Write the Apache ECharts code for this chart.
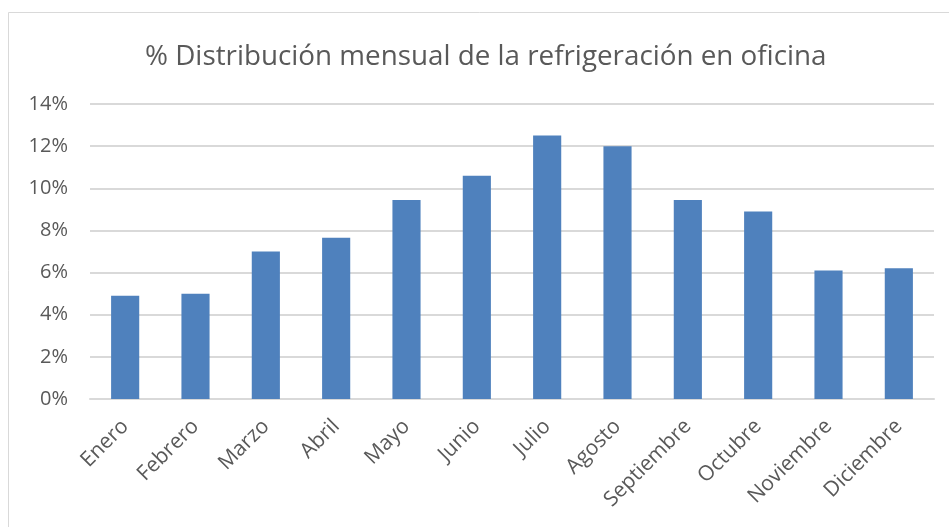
<!DOCTYPE html>
<html>
<head>
<meta charset="utf-8">
<script src="https://cdn.jsdelivr.net/npm/echarts@6/dist/echarts.min.js"></script>
<style>
  html, body { margin: 0; padding: 0; background: #fff; }
  #chart { width: 949px; height: 527px; }
</style>
</head>
<body>
<div id="chart"></div>
<script>
// meses y porcentaje mensual
var meses = ['Enero', 'Febrero', 'Marzo', 'Abril', 'Mayo', 'Junio', 'Julio',
             'Agosto', 'Septiembre', 'Octubre', 'Noviembre', 'Diciembre'];
var porcentaje = [4.9, 5.0, 7.0, 7.65, 9.45, 10.6, 12.5, 12.0, 9.45, 8.9, 6.1, 6.2];
var titulo = '% Distribución mensual de la refrigeración en oficina';

var fuente = '"Open Sans", "Noto Sans", sans-serif';
var chart = echarts.init(document.getElementById('chart'), null, { renderer: 'canvas' });

var option = {
    animation: false,
    backgroundColor: '#fff',
    title: {
        text: titulo,
        left: 140,
        top: 38,
        textStyle: { fontFamily: fuente, fontSize: 27.8, fontWeight: 'normal', color: '#595959' }
    },
    // marco del area del grafico
    graphic: [{
        type: 'rect',
        shape: { x: 8.5, y: 12.5, width: 960, height: 540 },
        style: { fill: 'none', stroke: '#d9d9d9', lineWidth: 1 },
        silent: true
    }],
    grid: { left: 90, right: 15, top: 104, bottom: 128 },
    xAxis: {
        type: 'category',
        data: meses,
        axisLine: { lineStyle: { color: '#d9d9d9', width: 2 } },
        axisTick: { show: false },
        axisLabel: {
            rotate: 45,
            interval: 0,
            margin: 24,
            color: '#595959',
            fontFamily: fuente,
            fontSize: 21
        }
    },
    yAxis: {
        type: 'value',
        min: 0,
        max: 14,
        interval: 2,
        axisLine: { show: false },
        axisTick: { show: false },
        splitLine: { lineStyle: { color: '#d9d9d9', width: 2 } },
        axisLabel: {
            formatter: '{value}%',
            margin: 22,
            color: '#595959',
            fontFamily: fuente,
            fontSize: 20
        }
    },
    series: [{
        type: 'bar',
        data: porcentaje,
        barWidth: '40%',
        itemStyle: { color: '#4f81bd' }
    }]
};
chart.setOption(option);
</script>
</body>
</html>
